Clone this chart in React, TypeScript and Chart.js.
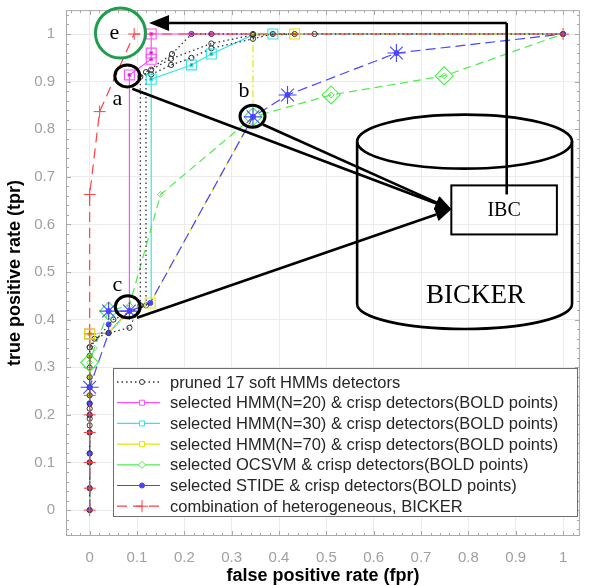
import React, { useEffect, useRef } from "react";
import { Chart, registerables } from "chart.js";

Chart.register(...registerables);

// ---------- axes ----------
const X_TICKS = [0, 0.1, 0.2, 0.3, 0.4, 0.5, 0.6, 0.7, 0.8, 0.9, 1];
const Y_TICKS = [0, 0.1, 0.2, 0.3, 0.4, 0.5, 0.6, 0.7, 0.8, 0.9, 1];
const X_MIN = -0.05;
const X_MAX = 1.0356;
const Y_MIN = -0.0544;
const Y_MAX = 1.0502;
const MINOR_STEP = 0.02;
const X_TITLE = "false positive rate (fpr)";
const Y_TITLE = "true positive rate (tpr)";

// ---------- data ----------
const PRUNED_FPR = [0, 0, 0, 0, 0, 0, 0, 0, 0, 0, 0, 0, 0, 0, 0, 0, 0.01, 0.04, 0.084, 0.107, 0.107, 0.13, 0.172, 0.257, 0.345, 0.475, 1, null,
  0, 0.05, 0.119, 0.119, 0.174, 0.215, 0.257, 0.345, null,
  0.13, 0.172, 0.215, 0.257, 0.345, 0.387, 0.433];
const PRUNED_TPR = [0, 0.046, 0.1, 0.119, 0.163, 0.178, 0.192, 0.2, 0.213, 0.224, 0.241, 0.258, 0.279, 0.299, 0.324, 0.342, 0.36, 0.372, 0.383, 0.43, 0.91, 0.925, 0.948, 0.98, 0.998, 1, 1, null,
  0.342, 0.4, 0.43, 0.92, 0.958, 1, 1, 1, null,
  0.915, 0.935, 0.95, 0.97, 0.99, 1, 1];

const HMM20_FPR = [0, 0, 0, 0, 0, 0, 0, 0, 0, 0.04, 0.084, 0.084, 0.13, 0.13, 0.13, 0.215, 0.257, 1];
const HMM20_TPR = [0, 0.046, 0.1, 0.163, 0.2, 0.241, 0.279, 0.324, 0.37, 0.372, 0.42, 0.914, 0.947, 0.96, 1, 1, 1, 1];
const HMM20_BOLD = [8, 11, 12, 13, 14];

const HMM30_FPR = [0, 0, 0, 0, 0, 0, 0, 0, 0, 0.04, 0.084, 0.13, 0.13, 0.215, 0.257, 0.345, 0.387, 1];
const HMM30_TPR = [0, 0.046, 0.1, 0.163, 0.2, 0.241, 0.279, 0.324, 0.37, 0.372, 0.418, 0.435, 0.905, 0.935, 0.958, 0.998, 1, 1];
const HMM30_BOLD = [12, 13, 14, 16];

const HMM70_FPR = [0, 0, 0, 0, 0, 0, 0, 0, 0, 0.04, 0.084, 0.128, 0.345, 0.345, 0.433, 1];
const HMM70_TPR = [0, 0.046, 0.1, 0.163, 0.2, 0.241, 0.279, 0.324, 0.37, 0.372, 0.418, 0.435, 0.826, 0.998, 1, 1];
const HMM70_BOLD = [8, 11, 14];

const OCSVM_FPR = [0, 0, 0, 0, 0, 0, 0, 0, 0.01, 0.04, 0.084, 0.15, 0.345, 0.51, 0.749, 1];
const OCSVM_TPR = [0, 0.046, 0.1, 0.163, 0.2, 0.241, 0.279, 0.31, 0.34, 0.418, 0.43, 0.663, 0.826, 0.872, 0.912, 1];
const OCSVM_BOLD = [7, 9, 12, 13, 14];

const STIDE_FPR = [0, 0, 0, 0, 0, 0, 0, 0, 0.04, 0.04, 0.04, 0.084, 0.128, 0.345, 0.418, 0.648, 1];
const STIDE_TPR = [0, 0.046, 0.1, 0.119, 0.163, 0.2, 0.224, 0.258, 0.372, 0.39, 0.418, 0.418, 0.435, 0.826, 0.872, 0.96, 1];
const STIDE_BOLD = [7, 10, 11, 13, 14, 15];

const BICKER_FPR = [0, 0, 0, 0, 0, 0, 0, 0, 0, 0.021, 0.094, 1];
const BICKER_TPR = [0, 0.046, 0.1, 0.163, 0.2, 0.241, 0.299, 0.37, 0.663, 0.837, 1, 1];

const LEGEND_LABELS = [
  "pruned 17 soft HMMs detectors",
  "selected HMM(N=20) & crisp detectors(BOLD points)",
  "selected HMM(N=30) & crisp detectors(BOLD points)",
  "selected HMM(N=70) & crisp detectors(BOLD points)",
  "selected OCSVM & crisp detectors(BOLD points)",
  "selected STIDE & crisp detectors(BOLD points)",
  "combination of heterogeneous, BICKER",
];

// ---------- annotation positions (data units) ----------
const E_MARK = { x: 0.065, y: 1.002, label: "e" };
const A_MARK = { x: 0.0795, y: 0.912, lx: 0.0586, ly: 0.862, label: "a" };
const B_MARK = { x: 0.344, y: 0.827, lx: 0.326, ly: 0.879, label: "b" };
const C_MARK = { x: 0.0805, y: 0.427, lx: 0.0586, ly: 0.473, label: "c" };
const IBC_TIP = { x: 0.764, y: 0.632 };
const ARROW_STARTS = [
  { x: 0.09, y: 0.885 },
  { x: 0.366, y: 0.81 },
  { x: 0.1, y: 0.404 },
];
const IBC_BOX = { x0: 0.764, y0: 0.682, x1: 0.987, y1: 0.579, label: "IBC" };
const IBC_UP = { x: 0.881, yFrom: 0.663, yTo: 1.023, xTip: 0.1255 };
const CYL = { x0: 0.565, x1: 1.019, yTop: 0.774, yBot: 0.433, label: "BICKER", ly: 0.45 };

// ---------- styles ----------
const C_PRUNED = "#333333";
const C_M = "#ff4dff";
const C_C = "#33e6e6";
const C_Y = "#e6e600";
const C_G = "#4ded4d";
const C_B = "#4646ff";
const C_R = "#ff4040";

type Style = {
  color: string;
  dash: number[];
  width: number;
  small: string;
  smallR: number;
  smallFill: string;
  bold?: string;
  boldR?: number;
};

const ST_PRUNED: Style = { color: C_PRUNED, dash: [1.5, 3], width: 1.3, small: "circle", smallR: 2.6, smallFill: "rgba(255,255,255,0)" };
const ST_M: Style = { color: C_M, dash: [], width: 1.2, small: "rect", smallR: 2, smallFill: "#cc00cc", bold: "rect", boldR: 7 };
const ST_C: Style = { color: C_C, dash: [], width: 1.2, small: "rect", smallR: 2, smallFill: "#009999", bold: "rect", boldR: 7 };
const ST_Y: Style = { color: C_Y, dash: [7, 3, 2, 3], width: 1.2, small: "rect", smallR: 2, smallFill: "#999900", bold: "rect", boldR: 7 };
const ST_G: Style = { color: C_G, dash: [8, 5], width: 1.2, small: "rectRot", smallR: 3, smallFill: "rgba(255,255,255,0)", bold: "rectRot", boldR: 9 };
const ST_B: Style = { color: C_B, dash: [10, 5], width: 1.2, small: "circle", smallR: 2.5, smallFill: C_B, bold: "star", boldR: 9 };
const ST_R: Style = { color: C_R, dash: [10, 6], width: 1.2, small: "cross", smallR: 6, smallFill: C_R };

const toPts = (xs: (number | null)[], ys: (number | null)[]) => xs.map((x, i) => ({ x, y: ys[i] }));
const pick = (xs: (number | null)[], ys: (number | null)[], idx: number[]) => idx.map((i) => ({ x: xs[i], y: ys[i] }));

function lineDs(xs: any[], ys: any[], s: Style) {
  return {
    data: toPts(xs, ys),
    showLine: true,
    spanGaps: false,
    borderColor: s.color,
    borderWidth: s.width,
    borderDash: s.dash,
    tension: 0,
    fill: false,
    pointStyle: s.small,
    pointRadius: s.smallR,
    pointBackgroundColor: s.smallFill,
    pointBorderColor: s.color,
    pointBorderWidth: 1,
  };
}
function boldDs(xs: any[], ys: any[], idx: number[], s: Style) {
  return {
    data: pick(xs, ys, idx),
    showLine: false,
    pointStyle: s.bold,
    pointRadius: s.boldR,
    pointBackgroundColor: "rgba(255,255,255,0)",
    pointBorderColor: s.color,
    pointBorderWidth: 1.1,
  };
}

const fmt = (v: number) => String(Math.round(v * 10) / 10);

// ---------- marker for legend ----------
function marker(ctx: CanvasRenderingContext2D, style: string, x: number, y: number, r: number, color: string, fill: string) {
  ctx.save();
  ctx.setLineDash([]);
  ctx.strokeStyle = color;
  ctx.fillStyle = fill;
  ctx.lineWidth = 1;
  ctx.beginPath();
  if (style === "circle") {
    ctx.arc(x, y, r, 0, Math.PI * 2);
    ctx.fill();
    ctx.stroke();
  } else if (style === "rect") {
    ctx.rect(x - r, y - r, 2 * r, 2 * r);
    ctx.fill();
    ctx.stroke();
  } else if (style === "rectRot") {
    ctx.moveTo(x, y - r);
    ctx.lineTo(x + r, y);
    ctx.lineTo(x, y + r);
    ctx.lineTo(x - r, y);
    ctx.closePath();
    ctx.fill();
    ctx.stroke();
  } else if (style === "cross") {
    ctx.moveTo(x - r, y);
    ctx.lineTo(x + r, y);
    ctx.moveTo(x, y - r);
    ctx.lineTo(x, y + r);
    ctx.stroke();
  }
  ctx.restore();
}

const LEGEND_STYLES = [ST_PRUNED, ST_M, ST_C, ST_Y, ST_G, ST_B, ST_R];
const LEGEND_MARK_FILL = ["#ffffff", "#ffffff", "#ffffff", "#ffffff", "#ffffff", C_B, C_R];

const zeroPad = (s: any) => {
  s.paddingTop = 0;
  s.paddingBottom = 0;
  s.paddingLeft = 0;
  s.paddingRight = 0;
};

const overlay = {
  id: "overlay",
  afterDatasetsDraw(chart: any) {
    const { ctx, chartArea: a, scales } = chart;
    const xs = scales.x, ys = scales.y;
    const px = (v: number) => xs.getPixelForValue(v);
    const py = (v: number) => ys.getPixelForValue(v);

    // box + ticks
    ctx.save();
    ctx.strokeStyle = "#a9a9a9";
    ctx.lineWidth = 1;
    ctx.setLineDash([]);
    ctx.strokeRect(a.left + 0.5, a.top + 0.5, a.right - a.left - 1, a.bottom - a.top - 1);
    ctx.beginPath();
    const isMajor = (v: number) => Math.abs(v * 10 - Math.round(v * 10)) < 1e-6;
    for (let k = Math.ceil(X_MIN / MINOR_STEP); k * MINOR_STEP <= X_MAX; k++) {
      const v = k * MINOR_STEP;
      const L = isMajor(v) ? 5 : 3;
      const X = Math.round(px(v)) + 0.5;
      ctx.moveTo(X, a.bottom);
      ctx.lineTo(X, a.bottom - L);
      ctx.moveTo(X, a.top);
      ctx.lineTo(X, a.top + L);
    }
    for (let k = Math.ceil(Y_MIN / MINOR_STEP); k * MINOR_STEP <= Y_MAX; k++) {
      const v = k * MINOR_STEP;
      const L = isMajor(v) ? 5 : 3;
      const Y = Math.round(py(v)) + 0.5;
      ctx.moveTo(a.left, Y);
      ctx.lineTo(a.left + L, Y);
      ctx.moveTo(a.right, Y);
      ctx.lineTo(a.right - L, Y);
    }
    ctx.stroke();
    ctx.restore();

    // axis titles
    ctx.save();
    ctx.fillStyle = "#000";
    ctx.font = 'bold 18px "Liberation Sans", Arial, sans-serif';
    ctx.textAlign = "center";
    ctx.textBaseline = "middle";
    ctx.fillText(X_TITLE, (a.left + a.right) / 2, 576);
    ctx.translate(15, (a.top + a.bottom) / 2);
    ctx.rotate(-Math.PI / 2);
    ctx.fillText(Y_TITLE, 0, 0);
    ctx.restore();

    // annotations
    ctx.save();
    ctx.setLineDash([]);
    // green circle e
    ctx.strokeStyle = "#1e9e4c";
    ctx.lineWidth = 3;
    ctx.beginPath();
    ctx.arc(px(E_MARK.x), py(E_MARK.y), 25, 0, Math.PI * 2);
    ctx.stroke();
    // black circles
    ctx.strokeStyle = "#000";
    for (const m of [A_MARK, B_MARK, C_MARK]) {
      ctx.beginPath();
      ctx.ellipse(px(m.x), py(m.y), 12.5, 11, 0, 0, Math.PI * 2);
      ctx.stroke();
    }
    // letters
    ctx.fillStyle = "#000";
    ctx.font = '22px "Liberation Serif", "Times New Roman", serif';
    ctx.textAlign = "center";
    ctx.textBaseline = "middle";
    ctx.fillText(E_MARK.label, px(E_MARK.x) - 6, py(E_MARK.y));
    for (const m of [A_MARK, B_MARK, C_MARK]) ctx.fillText(m.label, px(m.lx), py(m.ly));

    // arrows to IBC
    const arrow = (x1: number, y1: number, x2: number, y2: number, len: number, hw: number) => {
      const ang = Math.atan2(y2 - y1, x2 - x1);
      const bx = x2 - len * Math.cos(ang), by = y2 - len * Math.sin(ang);
      ctx.beginPath();
      ctx.moveTo(x1, y1);
      ctx.lineTo(bx, by);
      ctx.stroke();
      ctx.beginPath();
      ctx.moveTo(x2, y2);
      ctx.lineTo(bx + hw * Math.sin(ang), by - hw * Math.cos(ang));
      ctx.lineTo(bx - hw * Math.sin(ang), by + hw * Math.cos(ang));
      ctx.closePath();
      ctx.fill();
    };
    ctx.lineWidth = 2.6;
    for (const s of ARROW_STARTS) arrow(px(s.x), py(s.y), px(IBC_TIP.x), py(IBC_TIP.y), 16, 7);

    // IBC -> e
    ctx.beginPath();
    ctx.moveTo(px(IBC_UP.x), py(IBC_UP.yFrom));
    ctx.lineTo(px(IBC_UP.x), py(IBC_UP.yTo));
    ctx.stroke();
    arrow(px(IBC_UP.x), py(IBC_UP.yTo), px(IBC_UP.xTip), py(IBC_UP.yTo), 20, 8);

    // cylinder
    const cx0 = px(CYL.x0), cx1 = px(CYL.x1);
    const cmx = (cx0 + cx1) / 2, crx = (cx1 - cx0) / 2;
    const cyT = py(CYL.yTop), cyB = py(CYL.yBot);
    ctx.lineWidth = 2.6;
    ctx.beginPath();
    ctx.ellipse(cmx, cyT, crx, 27, 0, 0, Math.PI * 2);
    ctx.stroke();
    ctx.beginPath();
    ctx.moveTo(cx0, cyT);
    ctx.lineTo(cx0, cyB);
    ctx.ellipse(cmx, cyB, crx, 25, 0, Math.PI, 0, true);
    ctx.lineTo(cx1, cyT);
    ctx.stroke();

    // IBC box
    ctx.lineWidth = 2;
    const bx0 = px(IBC_BOX.x0), by0 = py(IBC_BOX.y0), bx1 = px(IBC_BOX.x1), by1 = py(IBC_BOX.y1);
    ctx.strokeRect(bx0, by0, bx1 - bx0, by1 - by0);
    ctx.font = '20px "Liberation Serif", "Times New Roman", serif';
    ctx.fillText(IBC_BOX.label, (bx0 + bx1) / 2, (by0 + by1) / 2 + 1);
    ctx.font = '27px "Liberation Serif", "Times New Roman", serif';
    ctx.fillText(CYL.label, cmx + 11, py(CYL.ly));
    ctx.restore();

    // legend
    ctx.save();
    const L = { x: 113, y: 368, w: 464, h: 148 };
    ctx.fillStyle = "#fff";
    ctx.fillRect(L.x, L.y, L.w, L.h);
    ctx.strokeStyle = "#6e6e6e";
    ctx.lineWidth = 1;
    ctx.strokeRect(L.x + 0.5, L.y + 0.5, L.w, L.h);
    ctx.font = '16.5px "Liberation Sans", Arial, sans-serif';
    ctx.textAlign = "left";
    ctx.textBaseline = "middle";
    LEGEND_LABELS.forEach((lab, i) => {
      const s = LEGEND_STYLES[i];
      const yy = 382 + i * 20.7;
      ctx.strokeStyle = s.color;
      ctx.lineWidth = s.width;
      ctx.setLineDash(i === 0 ? [1.5, 3] : i === 6 ? [10, 6] : []);
      ctx.beginPath();
      ctx.moveTo(117, yy);
      ctx.lineTo(160, yy);
      ctx.stroke();
      ctx.setLineDash([]);
      const r = i === 6 ? 6 : i === 4 ? 3.5 : 2.5;
      marker(ctx, s.small, 142, yy, r, s.color, LEGEND_MARK_FILL[i]);
      ctx.fillStyle = "#262626";
      ctx.fillText(lab, 170, yy + 1);
    });
    ctx.restore();
  },
};

export default function App() {
  const ref = useRef<HTMLCanvasElement>(null);
  useEffect(() => {
    const datasets: any[] = [
      boldDs(STIDE_FPR, STIDE_TPR, STIDE_BOLD, ST_B),
      boldDs(OCSVM_FPR, OCSVM_TPR, OCSVM_BOLD, ST_G),
      boldDs(HMM70_FPR, HMM70_TPR, HMM70_BOLD, ST_Y),
      boldDs(HMM30_FPR, HMM30_TPR, HMM30_BOLD, ST_C),
      boldDs(HMM20_FPR, HMM20_TPR, HMM20_BOLD, ST_M),
      lineDs(BICKER_FPR, BICKER_TPR, ST_R),
      lineDs(PRUNED_FPR, PRUNED_TPR, ST_PRUNED),
      lineDs(STIDE_FPR, STIDE_TPR, ST_B),
      lineDs(OCSVM_FPR, OCSVM_TPR, ST_G),
      lineDs(HMM70_FPR, HMM70_TPR, ST_Y),
      lineDs(HMM30_FPR, HMM30_TPR, ST_C),
      lineDs(HMM20_FPR, HMM20_TPR, ST_M),
    ];
    const tickFont = { family: '"Liberation Sans", Arial, sans-serif', size: 15 };
    const chart = new Chart(ref.current as HTMLCanvasElement, {
      type: "scatter",
      data: { datasets },
      options: {
        animation: false,
        responsive: false,
        layout: { padding: { top: 8, right: 5, left: 0, bottom: 0 } },
        plugins: { legend: { display: false }, tooltip: { enabled: false } },
        scales: {
          x: {
            type: "linear",
            min: X_MIN,
            max: X_MAX,
            afterBuildTicks: (s: any) => {
              s.ticks = X_TICKS.map((v) => ({ value: v }));
            },
            afterFit: (s: any) => {
              s.height = 50;
              zeroPad(s);
            },
            grid: { color: "#ebebeb", drawTicks: false },
            border: { display: false },
            ticks: { padding: 13, color: "#a0a0a0", font: tickFont, autoSkip: false, maxRotation: 0, callback: (v: any) => fmt(Number(v)) },
          },
          y: {
            type: "linear",
            min: Y_MIN,
            max: Y_MAX,
            afterBuildTicks: (s: any) => {
              s.ticks = Y_TICKS.map((v) => ({ value: v }));
            },
            afterFit: (s: any) => {
              s.width = 66;
              zeroPad(s);
            },
            grid: { color: "#ebebeb", drawTicks: false },
            border: { display: false },
            ticks: { padding: 11, color: "#a0a0a0", font: tickFont, autoSkip: false, callback: (v: any) => fmt(Number(v)) },
          },
        },
      },
      plugins: [overlay],
    } as any);
    return () => chart.destroy();
  }, []);
  return (
    <div style={{ position: "fixed", left: 0, top: 0, width: 590, height: 586, background: "#fff" }}>
      <canvas ref={ref} width={590} height={586} style={{ display: "block", width: 590, height: 586 }} />
    </div>
  );
}
